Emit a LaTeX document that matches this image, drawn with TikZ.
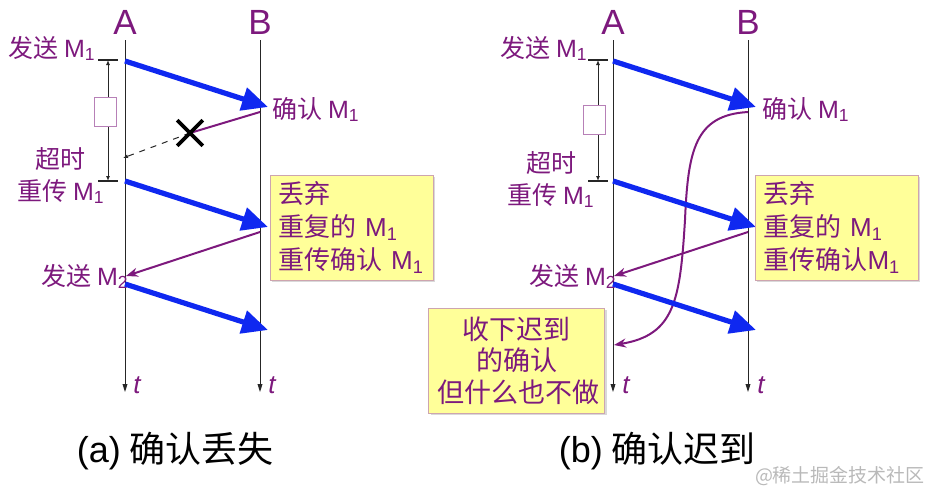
\documentclass[tikz,border=0pt]{standalone}
\usepackage{fontspec}
\setmainfont{Liberation Sans}
\newfontfamily\cjk{Noto Sans CJK SC}
\usetikzlibrary{arrows.meta,shadows,shapes.misc}
\definecolor{pp}{RGB}{125,25,125}
\definecolor{msgblue}{RGB}{15,40,240}
\definecolor{noteyel}{RGB}{255,255,153}
\definecolor{noteedge}{RGB}{205,165,175}
\newcommand{\Msg}[1]{\textrm{M\textsubscript{#1}}}

\begin{document}
\begin{tikzpicture}[x=0.5pt, y=-0.5pt,
    every node/.style={text=pp, inner sep=0pt},
    host/.style={font=\fontsize{17.5}{19}\selectfont},
    lbl/.style={font=\cjk\fontsize{12.5}{14}\selectfont},
    tm/.style={font=\fontsize{13}{15}\selectfont\itshape},
    note/.style={draw=noteedge, fill=noteyel, drop shadow={opacity=0.3, shadow xshift=1.2pt, shadow yshift=-1.2pt}, minimum height=52.5pt, inner xsep=4.25pt, inner ysep=3pt},
    lane/.style={black!85, line width=0.5pt, -{Triangle[length=4pt,width=2.4pt]}},
    msg/.style={msgblue, line width=2.6pt, -{Triangle[length=13pt,width=11.5pt]}},
    ack/.style={pp, line width=1pt, -{Stealth[length=6pt,width=4.5pt]}},
    timer/.style={black!85, line width=0.5pt, {Latex[length=2.5pt,width=2pt]}-{Latex[length=2.5pt,width=2pt]}},
    tick/.style={black!85, line width=0.6pt},
    clock/.style={draw=pp!55, fill=white, minimum width=11pt, minimum height=14.5pt},
    figcap/.style={text=black, font=\cjk\fontsize{18}{20}\selectfont},
]
\useasboundingbox (0,0) rectangle (926,493);

% (a) acknowledgement lost
\node[host, anchor=base] (hA1) at (125,34) {A};
\node[host, anchor=base] (hB1) at (260,34) {B};
\coordinate (a1top) at (125,40); \coordinate (a1end) at (125,392);
\coordinate (b1top) at (260,40); \coordinate (b1end) at (260,392);
\draw[lane] (a1top) -- (a1end);
\draw[lane] (b1top) -- (b1end);
\node[tm] (tA1) at (137,385) {t};
\node[tm] (tB1) at (272,385) {t};

\coordinate (w1s) at (108,60); \coordinate (w1e) at (108,181);
\draw[timer] (w1s) -- (w1e);
\draw[tick] ([xshift=-5pt]w1s) -- ([xshift=5pt]w1s);
\draw[tick] ([xshift=-5pt]w1e) -- ([xshift=5pt]w1e);
\node[clock] (clk1) at (105,112) {};

\coordinate (s1) at (125,61); \coordinate (r1) at (268,107);
\draw[msg] (s1) -- (r1);
\node[lbl, anchor=base east] (send1) at (96,57) {发送 \Msg{1}};
\node[lbl, anchor=base west] (conf1) at (272,118) {确认 \Msg{1}};
\coordinate (k1) at (260,112); \coordinate (x1) at (190,133);
\coordinate (due1) at (123,158);
\draw[pp, line width=1pt] (k1) -- (x1);
\draw[dashed, black!85, line width=0.5pt, -{Latex[length=2.5pt,width=2pt]}] (x1) -- (due1);
\node[draw=black, cross out, line width=1.8pt, minimum size=11pt] (lost) at (x1) {};

\node[lbl, anchor=base] (tout1) at (60,168) {超时};
\node[lbl, anchor=base] (resend1) at (61,200) {重传 \Msg{1}};
\coordinate (s2) at (125,181); \coordinate (r2) at (268,227);
\draw[msg] (s2) -- (r2);
\node[note, text width=73pt, align=left, font=\cjk\fontsize{13}{16.5}\selectfont] (drop1) at (351.5,227.5) {丢弃\\重复的~\Msg{1}\\重传确认~\Msg{1}};
\coordinate (k2) at (260,232); \coordinate (g2) at (126,276);
\draw[ack] (k2) -- (g2);
\node[lbl, anchor=base east] (send2) at (129,285) {发送 \Msg{2}};
\coordinate (s3) at (125,284); \coordinate (r3) at (268,330);
\draw[msg] (s3) -- (r3);
\node[figcap] (capa) at (175,451) {\textrm{(a)} 确认丢失};

% (b) acknowledgement late
\node[host, anchor=base] (hA2) at (613,34) {A};
\node[host, anchor=base] (hB2) at (748,34) {B};
\coordinate (a2top) at (613,40); \coordinate (a2end) at (613,392);
\coordinate (b2top) at (748,40); \coordinate (b2end) at (748,392);
\draw[lane] (a2top) -- (a2end);
\draw[lane] (b2top) -- (b2end);
\node[tm] (tA2) at (626,385) {t};
\node[tm] (tB2) at (761,385) {t};

\coordinate (w2s) at (598,60); \coordinate (w2e) at (598,181);
\draw[timer] (w2s) -- (w2e);
\draw[tick] ([xshift=-5pt]w2s) -- ([xshift=5pt]w2s);
\draw[tick] ([xshift=-5pt]w2e) -- ([xshift=5pt]w2e);
\node[clock] (clk2) at (594.5,119.5) {};

\coordinate (s4) at (613,61); \coordinate (r4) at (756,107);
\draw[msg] (s4) -- (r4);
\node[lbl, anchor=base east] (send3) at (588,57) {发送 \Msg{1}};
\node[lbl, anchor=base west] (conf2) at (762,118) {确认 \Msg{1}};
\coordinate (k3) at (748,112); \coordinate (g3) at (614,345);
\draw[ack] (k3) .. controls (695,115) and (688,150) .. (685,220)
    .. controls (680,300) and (675,335) .. (g3);

\node[lbl, anchor=base] (tout2) at (551,172) {超时};
\node[lbl, anchor=base] (resend2) at (551,204) {重传 \Msg{1}};
\coordinate (s5) at (613,181); \coordinate (r5) at (756,227);
\draw[msg] (s5) -- (r5);
\node[note, text width=73pt, align=left, font=\cjk\fontsize{13}{16.5}\selectfont] (drop2) at (836.5,227.5) {丢弃\\重复的~\Msg{1}\\重传确认\Msg{1}};
\coordinate (k4) at (748,232); \coordinate (g4) at (614,276);
\draw[ack] (k4) -- (g4);
\node[lbl, anchor=base east] (send4) at (617,285) {发送 \Msg{2}};
\coordinate (s6) at (613,284); \coordinate (r6) at (756,330);
\draw[msg] (s6) -- (r6);
\node[note, text width=79.5pt, align=center, font=\cjk\fontsize{13.5}{15.75}\selectfont] (keep) at (516.5,360.5) {收下迟到\\的确认\\但什么也不做};
\node[figcap] (capb) at (657,451) {\textrm{(b)} 确认迟到};

\node[text=gray!55, font=\cjk\fontsize{9.5}{11}\selectfont] (mark) at (840,476) {@稀土掘金技术社区};
\end{tikzpicture}
\end{document}
